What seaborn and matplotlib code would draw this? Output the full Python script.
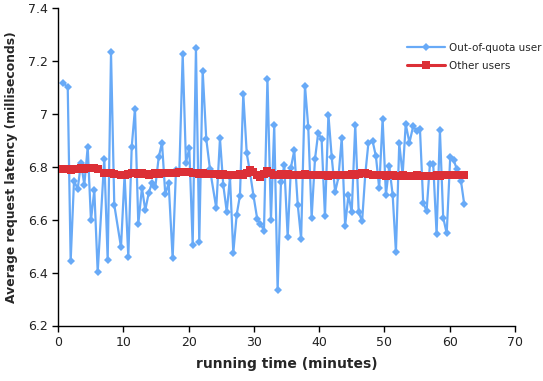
import matplotlib
matplotlib.use("Agg")
import matplotlib.pyplot as plt
import seaborn as sns
import pandas as pd

minutes = [0.81, 1.49, 1.94, 2.45, 3.02, 3.52, 4.03, 4.55, 5.05, 5.56,
           6.08, 7.09, 7.61, 8.12, 8.62, 9.65, 10.2, 10.77, 11.29, 11.79,
           12.30, 12.86, 13.37, 13.89, 14.40, 14.90, 15.42, 15.93, 16.43, 16.95,
           17.56, 18.07, 18.58, 19.10, 19.60, 20.11, 20.63, 21.13, 21.64, 22.16,
           22.71, 23.28, 24.24, 24.81, 25.31, 25.85, 26.34, 26.85, 27.37, 27.87,
           28.38, 28.91, 29.40, 29.94, 30.52, 31.01, 31.55, 32.08, 32.62, 33.12,
           33.64, 34.15, 34.66, 35.18, 35.68, 36.19, 36.72, 37.24, 37.83, 38.33,
           38.85, 39.36, 39.86, 40.38, 40.89, 41.42, 41.93, 42.45, 42.96, 43.46,
           43.98, 44.49, 44.99, 45.53, 46.06, 46.58, 47.06, 47.55, 48.19, 48.70,
           49.20, 49.72, 50.23, 50.74, 51.26, 51.76, 52.27, 52.79, 53.26, 53.83,
           54.41, 54.93, 55.44, 55.94, 56.46, 56.97, 57.47, 57.99, 58.50, 59.00,
           59.54, 60.08, 60.60, 61.10, 61.72, 62.22]

out_of_quota = [7.117, 7.100, 6.444, 6.747, 6.716, 6.816, 6.732, 6.875, 6.597, 6.712,
                6.402, 6.831, 6.446, 7.232, 6.656, 6.496, 6.770, 6.459, 6.875, 7.020,
                6.584, 6.720, 6.636, 6.700, 6.740, 6.722, 6.835, 6.891, 6.696, 6.738,
                6.454, 6.787, 6.780, 7.225, 6.816, 6.869, 6.505, 7.249, 6.515, 7.163,
                6.905, 6.790, 6.644, 6.907, 6.732, 6.630, 6.760, 6.475, 6.619, 6.691,
                7.075, 6.851, 6.780, 6.691, 6.602, 6.584, 6.559, 7.133, 6.600, 6.957,
                6.333, 6.741, 6.805, 6.535, 6.797, 6.862, 6.657, 6.528, 7.107, 6.951,
                6.608, 6.828, 6.929, 6.903, 6.612, 6.997, 6.835, 6.705, 6.760, 6.910,
                6.577, 6.694, 6.628, 6.958, 6.628, 6.594, 6.770, 6.891, 6.897, 6.839,
                6.718, 6.981, 6.694, 6.802, 6.694, 6.477, 6.888, 6.770, 6.961, 6.891,
                6.954, 6.935, 6.944, 6.662, 6.633, 6.811, 6.811, 6.545, 6.938, 6.608,
                6.548, 6.838, 6.826, 6.790, 6.747, 6.659]

other_users = [6.790, 6.792, 6.788, 6.790, 6.792, 6.795, 6.793, 6.796, 6.794, 6.795,
               6.790, 6.776, 6.775, 6.778, 6.772, 6.770, 6.768, 6.772, 6.775, 6.776,
               6.774, 6.776, 6.772, 6.770, 6.774, 6.776, 6.773, 6.775, 6.777, 6.776,
               6.778, 6.777, 6.779, 6.780, 6.781, 6.779, 6.778, 6.776, 6.774, 6.775,
               6.773, 6.774, 6.772, 6.770, 6.772, 6.770, 6.768, 6.770, 6.769, 6.771,
               6.770, 6.775, 6.788, 6.782, 6.768, 6.763, 6.774, 6.785, 6.776, 6.770,
               6.770, 6.772, 6.769, 6.771, 6.770, 6.768, 6.770, 6.769, 6.771, 6.768,
               6.770, 6.769, 6.767, 6.770, 6.768, 6.766, 6.770, 6.769, 6.767, 6.770,
               6.768, 6.769, 6.772, 6.770, 6.771, 6.775, 6.778, 6.774, 6.770, 6.768,
               6.769, 6.767, 6.766, 6.770, 6.768, 6.766, 6.765, 6.767, 6.766, 6.765,
               6.766, 6.768, 6.765, 6.764, 6.766, 6.764, 6.765, 6.768, 6.766, 6.767,
               6.768, 6.770, 6.768, 6.769, 6.770, 6.770]

series_names = ["Out-of-quota user", "Other users"]
x_ticks = [0, 10, 20, 30, 40, 50, 60, 70]
y_ticks = [6.2, 6.4, 6.6, 6.8, 7.0, 7.2, 7.4]
y_tick_labels = ["6.2", "6.4", "6.6", "6.8", "7", "7.2", "7.4"]

sns.set_theme(style="ticks")
plt.rcParams["font.family"] = ["DejaVu Sans"]

df_blue = pd.DataFrame({"t": minutes, "v": out_of_quota})
df_red = pd.DataFrame({"t": minutes, "v": other_users})

fig = plt.figure(figsize=(5.43, 3.81), dpi=100)
ax = fig.add_axes([58 / 543, 1 - 325.5 / 381, (515 - 58) / 543, (325.5 - 8) / 381])

sns.lineplot(data=df_blue, x="t", y="v", ax=ax, color="#68aaf7", linewidth=1.6,
             marker="D", markersize=4.5, markeredgewidth=0, label=series_names[0],
             sort=False, zorder=2)
sns.lineplot(data=df_red, x="t", y="v", ax=ax, color="#dc2f36", linewidth=2.2,
             marker="s", markersize=5.2, markeredgewidth=0, label=series_names[1],
             sort=False, zorder=3)

ax.set_xlim(0, 70)
ax.set_ylim(6.2, 7.4)
ax.set_xticks(x_ticks)
ax.set_yticks(y_ticks)
ax.set_yticklabels(y_tick_labels)
ax.tick_params(axis="both", labelsize=9, length=4, width=1, color="black",
               labelcolor="#222222", direction="out")
for s in ["top", "right"]:
    ax.spines[s].set_visible(False)
for s in ["left", "bottom"]:
    ax.spines[s].set_color("black")
    ax.spines[s].set_linewidth(1)

ax.set_xlabel("running time (minutes)", fontsize=10, fontweight="bold", labelpad=6)
ax.set_ylabel("Average request latency (milliseconds)", fontsize=8.9,
              fontweight="bold", labelpad=7)

leg = ax.legend(loc="upper right", bbox_to_anchor=(1.078, 0.92), frameon=False,
                fontsize=7.5, handlelength=3.6, labelspacing=0.8, handletextpad=0.4)

fig.savefig("out.png", dpi=100)
